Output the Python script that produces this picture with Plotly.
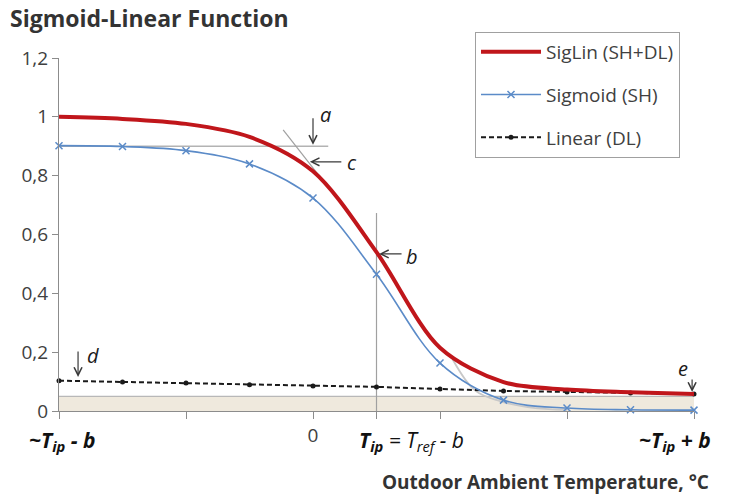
import plotly.graph_objects as go

# ---------------- data ----------------
x_vals = [-4, -3, -2, -1, 0, 1, 2, 3, 4, 5, 6]
siglin = [1.0, 0.993, 0.976, 0.932, 0.815, 0.54, 0.215, 0.098, 0.073, 0.064, 0.058]
sigmoid = [0.902, 0.899, 0.885, 0.84, 0.724, 0.465, 0.163, 0.037, 0.01, 0.004, 0.003]
linear = [0.103, 0.099, 0.095, 0.089, 0.085, 0.082, 0.075, 0.068, 0.065, 0.061, 0.058]

# helper construction lines
upper_asym_x = [-4, 0.24]
upper_asym_y = [0.9, 0.9]
tangent_x = [-0.47, 0.11]
tangent_y = [0.956, 0.796]
lower_tan_x = [2.2, 2.55, 2.95, 3.5, 4.0]
lower_tan_y = [0.175, 0.07, 0.033, 0.01, 0.004]
t_ip = 1
t_ip_line_top = 0.673
band_y = [0, 0.05]

y_ticks = [0, 0.2, 0.4, 0.6, 0.8, 1.0, 1.2]
y_ticktext = ["0", "0,2", "0,4", "0,6", "0,8", "1", "1,2"]
x_ticks = [-4, -2, 0, 1, 2, 4, 6]
x_ticktext = ["", "", "0", "", "", "", ""]

FONT = "Open Sans"
TXT = "#404040"

W, H = 742, 494
L, R, T, B = 59, 48, 58, 83
PW, PH = W - L - R, H - T - B


def px(x):
    return (x - L) / PW


def py(y):
    return (H - B - y) / PH


fig = go.Figure()

# helper lines (no legend)
fig.add_trace(go.Scatter(x=upper_asym_x, y=upper_asym_y, mode="lines",
                         line=dict(color="#b3b3b3", width=1.3), showlegend=False, hoverinfo="skip"))
fig.add_trace(go.Scatter(x=tangent_x, y=tangent_y, mode="lines",
                         line=dict(color="#a0a0a0", width=1.2), showlegend=False, hoverinfo="skip"))
fig.add_trace(go.Scatter(x=lower_tan_x, y=lower_tan_y, mode="lines", line_shape="spline",
                         line=dict(color="#c8c8c8", width=1.8), showlegend=False, hoverinfo="skip"))
fig.add_trace(go.Scatter(x=[t_ip, t_ip], y=[0, t_ip_line_top], mode="lines",
                         line=dict(color="#a0a0a0", width=1.2), showlegend=False, hoverinfo="skip"))

# main series
fig.add_trace(go.Scatter(x=x_vals, y=linear, mode="lines+markers", name="Linear (DL)",
                         line=dict(color="#1a1a1a", width=2, dash="5px,3px"),
                         marker=dict(symbol="circle", size=5, color="#1a1a1a"),
                         legendgroup="c", legendrank=3, cliponaxis=False))
fig.add_trace(go.Scatter(x=x_vals, y=sigmoid, mode="lines+markers", name="Sigmoid (SH)",
                         line=dict(color="#5b8bc8", width=1.6, shape="spline"),
                         marker=dict(symbol="x-thin", size=7, color="#5b8bc8",
                                     line=dict(color="#5b8bc8", width=1.5)),
                         legendgroup="b", legendrank=2, cliponaxis=False))
fig.add_trace(go.Scatter(x=x_vals, y=siglin, mode="lines", name="SigLin (SH+DL)",
                         line=dict(color="#c0161b", width=4, shape="spline", smoothing=0.9),
                         legendgroup="a", legendrank=1, cliponaxis=False))

shapes = [
    dict(type="rect", xref="x", yref="y", x0=x_vals[0], x1=x_vals[-1], y0=band_y[0], y1=band_y[1],
         fillcolor="#efe9dd", line=dict(width=0), layer="below"),
    dict(type="line", xref="x", yref="y", x0=x_vals[0], x1=x_vals[-1], y0=band_y[1], y1=band_y[1],
         line=dict(color="#b8b8b8", width=1.3), layer="below"),
]

ann = []
arrow_style = dict(showarrow=True, arrowhead=5, arrowsize=1.3, arrowwidth=1.2,
                   arrowcolor="#3a3a3a", text="", axref="pixel", ayref="pixel")
ann.append(dict(x=0, y=0.905, ax=0, ay=-28, **arrow_style))       # a
ann.append(dict(x=-0.05, y=0.847, ax=33, ay=0, **arrow_style))    # c
ann.append(dict(x=1.04, y=0.534, ax=24, ay=0, **arrow_style))     # b
ann.append(dict(x=-3.7, y=0.116, ax=0, ay=-27, **arrow_style))    # d
ann.append(dict(x=5.97, y=0.065, ax=0, ay=-14, **arrow_style))    # e

lab_font = dict(family=FONT, size=20, color="#1a1a1a")
for t, xx, yy in [("a", 0.19, 1.007), ("c", 0.61, 0.844), ("b", 1.56, 0.524),
                  ("d", -3.46, 0.187), ("e", 5.83, 0.146)]:
    ann.append(dict(x=xx, y=yy, text=f"<i>{t}</i>", showarrow=False, font=lab_font,
                    xanchor="center", yanchor="middle"))

# x-axis custom labels
xl_font = dict(family=FONT, size=21, color="#111111")
ann.append(dict(xref="paper", yref="paper", x=px(27), y=py(441), xanchor="left", yanchor="middle",
                text="<b><i>~T<sub>ip</sub> - b</i></b>", showarrow=False, font=xl_font))
ann.append(dict(xref="paper", yref="paper", x=px(357), y=py(441), xanchor="left", yanchor="middle",
                text="<b><i>T<sub>ip</sub></i></b><i> = T<sub>ref</sub> - b</i>", showarrow=False,
                font=xl_font))
ann.append(dict(xref="paper", yref="paper", x=px(713), y=py(441), xanchor="right", yanchor="middle",
                text="<b><i>~T<sub>ip</sub> + b</i></b>", showarrow=False, font=xl_font))
# x-axis title
ann.append(dict(xref="paper", yref="paper", x=px(711), y=py(482), xanchor="right", yanchor="middle",
                text="<b>Outdoor Ambient Temperature, °C</b>", showarrow=False,
                font=dict(family=FONT, size=19, color="#333333")))

fig.update_layout(
    width=W, height=H,
    margin=dict(l=L, r=R, t=T, b=B),
    paper_bgcolor="white", plot_bgcolor="white",
    title=dict(text="<b>Sigmoid-Linear Function</b>", xref="container", yref="container",
               x=10 / W, y=1 - 19 / H, xanchor="left", yanchor="middle",
               font=dict(family=FONT, size=23, color="#333333")),
    showlegend=True,
    legend=dict(x=px(475), y=py(32), xanchor="left", yanchor="top",
                bordercolor="#a0a0a0", borderwidth=1, bgcolor="white",
                font=dict(family=FONT, size=19, color=TXT),
                itemwidth=60,
                tracegroupgap=15, traceorder="grouped"),
    shapes=shapes,
    annotations=ann,
    xaxis=dict(range=[-4, 6], showgrid=False, zeroline=False, showline=True,
               linecolor="#8c8c8c", linewidth=1.2, ticks="outside", ticklen=7,
               tickcolor="#8c8c8c", tickvals=x_ticks, ticktext=x_ticktext,
               tickfont=dict(family=FONT, size=19, color=TXT)),
    yaxis=dict(range=[0, 1.2], showgrid=False, zeroline=False, showline=True,
               linecolor="#8c8c8c", linewidth=1.2, ticks="outside", ticklen=6,
               tickcolor="#8c8c8c", tickvals=y_ticks, ticktext=y_ticktext,
               tickfont=dict(family=FONT, size=19, color=TXT)),
)

fig.write_html("out.html")
